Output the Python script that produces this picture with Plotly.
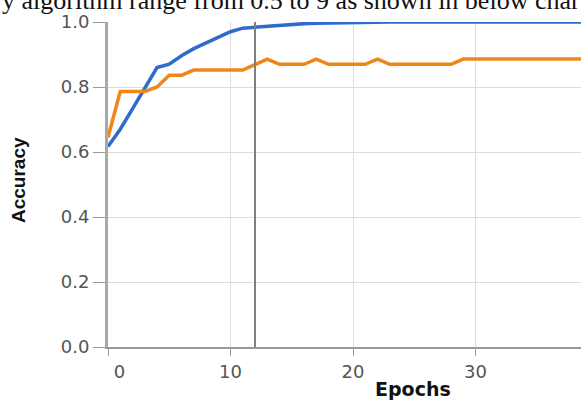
import plotly.graph_objects as go

epochs = list(range(0, 40))
train_acc = [0.617, 0.670, 0.733, 0.795, 0.860, 0.870, 0.896, 0.918, 0.936, 0.952,
             0.970, 0.981, 0.984, 0.987, 0.990, 0.993, 0.995, 0.996, 0.997, 0.998,
             0.999] + [1.0] * 19
val_acc = [0.645, 0.786, 0.786, 0.786, 0.800, 0.836, 0.836, 0.852, 0.852, 0.852,
           0.852, 0.852, 0.869, 0.886, 0.870, 0.870, 0.870, 0.886, 0.870, 0.870,
           0.870, 0.870, 0.886, 0.870, 0.870, 0.870, 0.870, 0.870, 0.870] + [0.886] * 11
x_ticks = [0, 10, 20, 30]
x_tick_text = ["\u00a0\u00a0\u00a0\u00a00", "10", "20", "30"]
y_ticks = [0.0, 0.2, 0.4, 0.6, 0.8, 1.0]
y_tick_text = ["0.0", "0.2", "0.4", "0.6", "0.8", "1.0"]
marker_epoch = 12
caption = "y algorithm range from 0.5 to 9 as shown in below chart"

W, H = 581, 401
ML, MR, MT, MB = 108, 0, 22, 54
plot_w = W - ML - MR
plot_h = H - MT - MB
px_per_epoch = 12.25
x_max = plot_w / px_per_epoch


def py(pixel_y):
    return ((H - MB) - pixel_y) / plot_h


def px(pixel_x):
    return (pixel_x - ML) / plot_w


fig = go.Figure()
fig.add_trace(go.Scatter(x=epochs, y=train_acc, mode="lines",
                         line=dict(color="#2f6bcc", width=3.5), cliponaxis=False,
                         showlegend=False))
fig.add_trace(go.Scatter(x=epochs, y=val_acc, mode="lines",
                         line=dict(color="#ee8718", width=3.5), cliponaxis=False,
                         showlegend=False))

fig.add_shape(type="line", xref="x", yref="paper", x0=marker_epoch, x1=marker_epoch,
              y0=0, y1=1, line=dict(color="#808080", width=2), layer="above")

tick_font = dict(family="DejaVu Sans", size=18, color="#555555")

fig.update_layout(
    width=W, height=H,
    margin=dict(l=ML, r=MR, t=MT, b=MB, pad=0),
    paper_bgcolor="white", plot_bgcolor="white",
    xaxis=dict(range=[0, x_max], tickvals=x_ticks, ticktext=x_tick_text,
               showgrid=True, gridcolor="#dddddd", gridwidth=1,
               showline=True, linecolor="#9a9a9a", linewidth=2,
               ticks="outside", ticklen=7, tickcolor="#9a9a9a", tickwidth=1,
               tickfont=tick_font, zeroline=False, fixedrange=True),
    yaxis=dict(range=[0, 1], tickvals=y_ticks, ticktext=y_tick_text,
               showgrid=True, gridcolor="#dddddd", gridwidth=1,
               showline=True, linecolor="#a8a8a8", linewidth=3,
               ticks="outside", ticklen=12, tickcolor="#9a9a9a", tickwidth=1,
               tickfont=tick_font, zeroline=False, fixedrange=True),
    annotations=[
        dict(text="<b>Epochs</b>", xref="paper", yref="paper",
             x=px(413), y=py(389),
             xanchor="center", yanchor="middle", showarrow=False,
             font=dict(family="DejaVu Sans", size=19, color="#111111")),
        dict(text="<b>Accuracy</b>", xref="paper", yref="paper",
             x=px(18), y=py(180),
             xanchor="center", yanchor="middle", textangle=-90, showarrow=False,
             font=dict(family="Liberation Sans", size=19, color="#111111")),
        dict(text=caption, xref="paper", yref="paper",
             x=px(0), y=py(17),
             xanchor="left", yanchor="bottom", showarrow=False,
             font=dict(family="Liberation Serif", size=26, color="#111111")),
    ],
)

fig.write_html("out.html")
